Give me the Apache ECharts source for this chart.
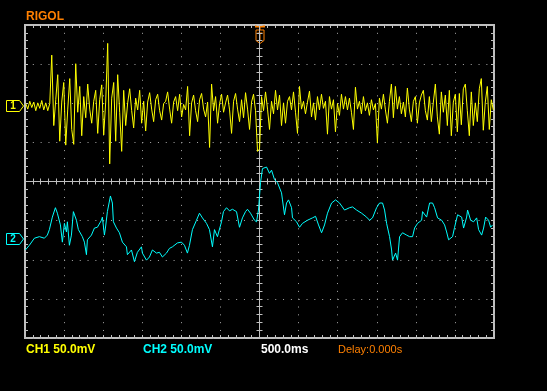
<!DOCTYPE html>
<html><head><meta charset="utf-8">
<script src="https://cdn.jsdelivr.net/npm/echarts@6/dist/echarts.min.js"></script>
<style>html,body{margin:0;padding:0;background:#000;}#c{width:547px;height:391px;}</style>
</head><body><div id="c"></div>
<script>
// ---- Channel 1 (yellow): millivolts relative to its ground marker, evenly sampled ----
const ch1Millivolts = [
  3,-4,6,-2,5,-6,4,-3,7,-5,4,-6,3,
  65,-25,8,40,-45,5,30,-50,-4,35,-30,-49,54,-8,25,-38,12,
  -15,28,-4,-22,6,20,-35,8,27,-37,
  5,80,-74,10,30,-45,40,-8,-58,20,
  -25,4,22,-6,-28,10,-5,20,-22,6,
  -32,5,17,-4,-20,8,15,-6,-18,3,
  6,18,-4,-22,5,12,-6,15,-14,2,
  -5,25,-38,4,14,-6,-20,8,16,-4,
  -14,5,-53,28,-6,12,-22,3,15,-8,
  4,14,-5,-35,6,16,-4,-20,8,-15,
  17,-4,-30,5,15,-6,-58,-55,12,-6,
  18,-4,-30,6,-10,20,-5,14,-25,4,
  -22,6,12,-5,18,-8,-35,25,-4,6,
  -10,5,19,-14,4,-18,12,-5,15,-3,
  6,-36,12,-4,8,-33,3,-12,15,-4,
  12,-5,10,-8,-30,24,-4,6,-10,12,
  -6,4,-12,8,-5,3,-47,10,-4,15,
  -5,-22,6,28,-15,25,-4,12,-10,5,
  -14,23,-4,-20,6,12,-22,4,14,20,
  -6,-18,12,-20,5,28,-14,-36,18,-8,
  14,-25,20,-38,5,15,-33,16,-24,22,
  28,-6,-38,18,-25,4,-20,22,35,-31,
  5,25,-30,8,-5
];
const ch1StartMs = -2990;
const ch1StepMs = 25.56;

// ---- Channel 2 (cyan): sample times (ms from trigger) and millivolts ----
const ch2TimesMs = [
  -2995,-2944,-2880,-2816,-2752,-2714,-2688,-2650,-2611,-2586,
  -2547,-2522,-2496,-2470,-2458,-2432,-2406,-2381,-2342,-2317,
  -2266,-2240,-2214,-2202,-2150,-2112,-2074,-2022,-2010,-1984,
  -1971,-1946,-1907,-1882,-1869,-1830,-1792,-1754,-1702,-1690,
  -1638,-1600,-1562,-1510,-1498,-1446,-1408,-1370,-1318,-1280,
  -1242,-1190,-1152,-1114,-1050,-998,-960,-922,-896,-858,
  -806,-768,-730,-678,-640,-602,-576,-538,-486,-461,
  -422,-384,-346,-294,-256,-218,-179,-154,-115,-64,
  -38,-13,13,38,90,128,154,192,230,282,
  294,320,346,371,410,422,474,512,550,614,
  678,717,755,794,832,870,922,973,1024,1088,
  1152,1190,1242,1306,1370,1408,1446,1498,1536,1574,
  1600,1626,1664,1690,1702,1741,1766,1792,1830,1882,
  1920,1958,1984,2022,2074,2086,2138,2176,2214,2240,
  2278,2330,2368,2394,2419,2470,2496,2534,2586,2611,
  2650,2662,2701,2739,2778,2803,2842,2867,2893,2931,
  2957,2982
];
const ch2Millivolts = [
  -14,-8,1,3,1,5,12,28,40,33,
  18,-4,20,9,22,-8,5,35,24,12,
  3,-4,-20,-1,5,14,15,24,28,5,
  14,35,55,46,22,14,8,-4,-10,-20,
  -14,-29,-17,-10,-18,-27,-23,-14,-18,-17,
  -23,-18,-12,-10,-5,-4,-8,-18,-8,12,
  24,33,27,20,12,-10,12,3,22,35,
  40,36,38,35,15,27,35,38,33,24,
  22,37,72,90,92,84,88,76,72,59,
  50,31,46,50,40,27,22,15,20,24,
  27,29,18,8,18,33,46,50,46,37,
  40,41,37,33,28,24,27,40,46,46,
  37,20,3,-14,-27,-18,-27,3,8,5,
  3,3,14,20,24,35,28,46,46,40,
  27,24,18,9,-1,3,15,31,28,14,
  28,37,24,22,27,12,5,14,28,24,
  15,18
];

// ---- Scope settings ----
const ch1ScaleMv = 50, ch2ScaleMv = 50;          // mV per division
const ch1OffsetDiv = 1.93, ch2OffsetDiv = -1.47;  // ground marker positions (divisions)
const timeMinMs = -3000, timeMaxMs = 3000, timePerDivMs = 500;
const divMin = -4, divMax = 4;
const labelBrand = 'RIGOL';
const labelCh1 = 'CH1 50.0mV';
const labelCh2 = 'CH2 50.0mV';
const labelTime = '500.0ms';
const labelDelay = 'Delay:0.000s';

const YEL = '#ffff00', CYN = '#00ffff', ORG = '#ff8000', GRID = '#c0c0c0', DOT = '#a8a8a8';

const ch1Data = ch1Millivolts.map((v, i) => [ch1StartMs + i * ch1StepMs, ch1OffsetDiv + v / ch1ScaleMv]);
const ch2Data = ch2TimesMs.map((t, i) => [t, ch2OffsetDiv + ch2Millivolts[i] / ch2ScaleMv]);

function xAx(position, inside, split, onZero) {
  return {
    type: 'value', min: timeMinMs, max: timeMaxMs, interval: timePerDivMs, position,
    axisLine: { show: onZero, onZero: onZero, onZeroAxisIndex: 0, lineStyle: { color: GRID, width: 1 } },
    axisTick: { show: true, inside, length: 3, lineStyle: { color: GRID } },
    minorTick: { show: true, splitNumber: 5, length: 3, lineStyle: { color: GRID } },
    axisLabel: { show: false },
    splitLine: split ? { show: true, lineStyle: { color: DOT, width: 1, type: [1, 6.82] } } : { show: false },
    minorSplitLine: { show: false }
  };
}
function yAx(position, inside, split, onZero) {
  return {
    type: 'value', min: divMin, max: divMax, interval: 1, position,
    axisLine: { show: onZero, onZero: onZero, onZeroAxisIndex: 0, lineStyle: { color: GRID, width: 1 } },
    axisTick: { show: true, inside, length: 3, lineStyle: { color: GRID } },
    minorTick: { show: true, splitNumber: 5, length: 3, lineStyle: { color: GRID } },
    axisLabel: { show: false },
    splitLine: split ? { show: true, lineStyle: { color: DOT, width: 1, type: [1, 6.82] } } : { show: false },
    minorSplitLine: { show: false }
  };
}

const option = {
  backgroundColor: '#000',
  animation: false,
  grid: { left: 25, top: 25, width: 469, height: 313, show: true, borderColor: GRID, borderWidth: 2, backgroundColor: 'transparent' },
  xAxis: [
    xAx('bottom', true, true, false),
    xAx('top', true, false, false),
    xAx('bottom', true, false, true),
    xAx('bottom', false, false, true)
  ],
  yAxis: [
    yAx('left', true, true, false),
    yAx('right', true, false, false),
    yAx('left', true, false, true),
    yAx('left', false, false, true)
  ],
  series: [
    { name: 'CH1', type: 'line', xAxisIndex: 0, yAxisIndex: 0, data: ch1Data, showSymbol: false, symbol: 'none',
      lineStyle: { color: YEL, width: 1 }, itemStyle: { color: YEL }, z: 5 },
    { name: 'CH2', type: 'line', xAxisIndex: 0, yAxisIndex: 0, data: ch2Data, showSymbol: false, symbol: 'none',
      lineStyle: { color: CYN, width: 1 }, itemStyle: { color: CYN }, z: 5 }
  ]
};

const chart = echarts.init(document.getElementById('c'), null, { renderer: 'canvas' });
chart.setOption(option);

const p1 = chart.convertToPixel({ gridIndex: 0 }, [0, ch1OffsetDiv]);
const p2 = chart.convertToPixel({ gridIndex: 0 }, [0, ch2OffsetDiv]);
const pt = chart.convertToPixel({ gridIndex: 0 }, [0, divMax]);

function chMarker(label, y, color) {
  return { type: 'group', x: 0, y: Math.round(y), children: [
    { type: 'polygon', shape: { points: [[6.5, -5.5], [19.5, -5.5], [23.5, 0], [19.5, 5.5], [6.5, 5.5]] },
      style: { fill: 'none', stroke: color, lineWidth: 1 } },
    { type: 'text', x: 13, y: 0.5, style: { text: label, fill: color, font: 'bold 10px "Liberation Sans"', align: 'center', verticalAlign: 'middle' } }
  ]};
}
const cx = Math.round(pt[0]), ty = Math.round(pt[1]);
const trig = { type: 'group', x: cx, y: ty, z: 20, children: [
  { type: 'line', shape: { x1: -5, y1: 1.5, x2: 5, y2: 1.5 }, style: { stroke: ORG, lineWidth: 2 } },
  { type: 'line', shape: { x1: 0, y1: 1.5, x2: 0, y2: 5 }, style: { stroke: ORG, lineWidth: 1 } },
  { type: 'polygon', shape: { points: [[-4, 5], [4, 5], [4, 15.5], [0, 18.5], [-4, 15.5]] }, style: { fill: '#000', stroke: ORG, lineWidth: 1 } },
  { type: 'line', shape: { x1: -2.5, y1: 8, x2: 2.5, y2: 8 }, style: { stroke: ORG, lineWidth: 1 } },
  { type: 'line', shape: { x1: 0, y1: 8, x2: 0, y2: 15 }, style: { stroke: ORG, lineWidth: 1 } }
]};

const txt = (text, x, y, color, font) => ({ type: 'text', x, y, style: { text, fill: color, font, align: 'left', verticalAlign: 'middle' } });

chart.setOption({ graphic: [
  txt(labelBrand, 26, 17, ORG, 'bold 12px "Liberation Sans"'),
  txt(labelCh1, 26, 350, YEL, 'bold 12px "Liberation Sans"'),
  txt(labelCh2, 143, 350, CYN, 'bold 12px "Liberation Sans"'),
  txt(labelTime, 261, 350, '#ffffff', 'bold 12px "Liberation Sans"'),
  txt(labelDelay, 338, 350, ORG, '11px "Liberation Sans"'),
  chMarker('1', p1[1], YEL),
  chMarker('2', p2[1], CYN),
  trig
]});
</script>
</body></html>
